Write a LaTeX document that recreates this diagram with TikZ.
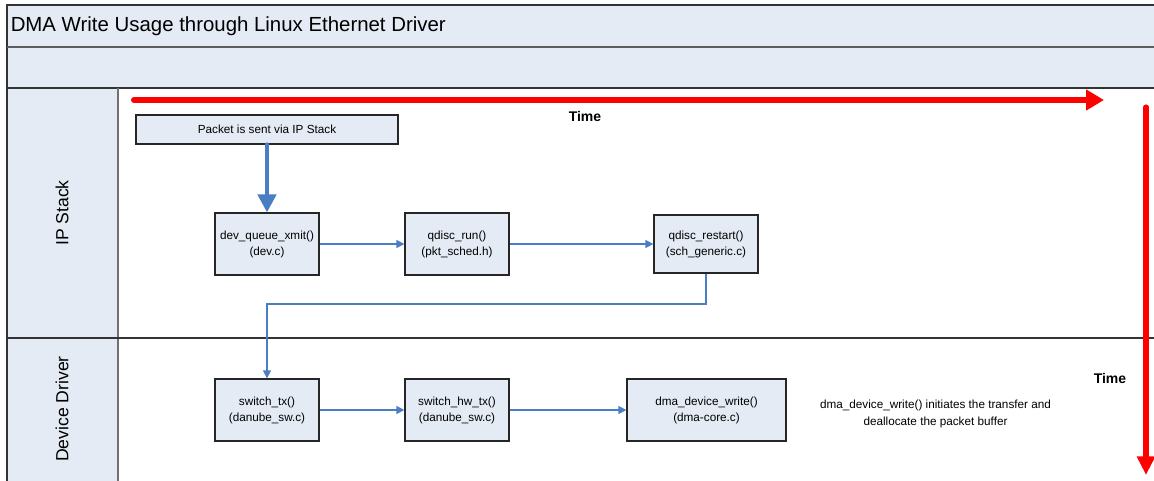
\documentclass[tikz,border=0pt]{standalone}
\usepackage{fontspec}
\setmainfont{Liberation Sans}
\usetikzlibrary{arrows.meta}
\definecolor{lanefill}{HTML}{E4EBF5}
\definecolor{flowblue}{HTML}{4A7EC4}
\definecolor{framegray}{HTML}{333333}
\definecolor{timered}{HTML}{FF0000}
\begin{document}
\begin{tikzpicture}[x=0.75pt,y=-0.75pt,
  frameline/.style={draw=framegray, line width=1.1pt},
  func/.style={draw=black!85, line width=0.9pt, fill=lanefill,
    minimum width=78pt, minimum height=46.5pt, inner sep=0pt,
    align=center, font=\fontsize{8.8}{12}\selectfont},
  flow/.style={draw=flowblue, line width=0.9pt, -{Triangle[length=6pt,width=6pt]}},
  bigflow/.style={draw=flowblue, line width=3.4pt, line cap=round,
    -{Triangle[length=13.5pt,width=13.5pt]}},
  timeline/.style={draw=timered, line cap=round},
  timelabel/.style={font=\fontsize{10.5}{12}\selectfont\bfseries},
  lanelabel/.style={rotate=90, font=\fontsize{13.2}{15}\selectfont},
  note/.style={align=center, font=\fontsize{8.8}{12.4}\selectfont}
]
\useasboundingbox (0,0) rectangle (1154,481);

% pool header bands and lane label column
\fill[lanefill] (7,5) rectangle (1160,88);
\fill[lanefill] (7,88) rectangle (118,490);
\draw[frameline] (7,490) -- (7,5) -- (1160,5);
\draw[draw=framegray!80, line width=1.1pt] (7,47) -- (1160,47);
\draw[frameline] (7,88) -- (1160,88);
\draw[draw=framegray!70, line width=1.1pt] (118,88) -- (118,490);
\draw[frameline] (7,338) -- (1160,338);

\node[anchor=west, font=\fontsize{15.3}{18}\selectfont, inner sep=0pt] (title) at (10.5,26) {DMA Write Usage through Linux Ethernet Driver};

\node[lanelabel] (ipstack) at (62,213) {IP Stack};
\node[lanelabel] (devdrv) at (62,409) {Device Driver};

% time axes
\coordinate (htstart) at (134,100);
\coordinate (htend) at (1104,100);
\draw[timeline, line width=4.5pt, -{Triangle[length=13.5pt,width=15pt]}] (htstart) -- (htend);
\node[timelabel] (htime) at (585,116.5) {Time};

\coordinate (vtstart) at (1146,107);
\coordinate (vtend) at (1146,475);
\draw[timeline, line width=3.8pt, -{Triangle[length=14pt,width=13pt]}] (vtstart) -- (vtend);
\node[timelabel] (vtime) at (1110,378) {Time};

% functions
\node[func, minimum width=196.5pt, minimum height=21.75pt] (pkt) at (267,129.5) {Packet is sent via IP Stack};
\node[func] (dqx) at (267,244) {dev\_queue\_xmit()\\(dev.c)};
\node[func] (qrun) at (457,244) {qdisc\_run()\\(pkt\_sched.h)};
\node[func, minimum height=43.5pt] (qrst) at (706,244) {qdisc\_restart()\\(sch\_generic.c)};
\node[func] (stx) at (267,410) {switch\_tx()\\(danube\_sw.c)};
\node[func] (shw) at (457,410) {switch\_hw\_tx()\\(danube\_sw.c)};
\node[func, minimum width=119.25pt] (dma) at (706.5,410) {dma\_device\_write()\\(dma-core.c)};

\node[note] (dmanote) at (935.5,414) {dma\_device\_write() initiates the transfer and\\deallocate the packet buffer};

% call flow
\draw[bigflow] (pkt.south) -- (dqx.north);
\draw[flow] (dqx) -- (qrun);
\draw[flow] (qrun) -- (qrst);
\coordinate (elbow) at (267,304);
\draw[flow] (qrst.south) |- (elbow) -- (stx.north);
\draw[flow] (stx) -- (shw);
\draw[flow] (shw) -- (dma);
\end{tikzpicture}
\end{document}
